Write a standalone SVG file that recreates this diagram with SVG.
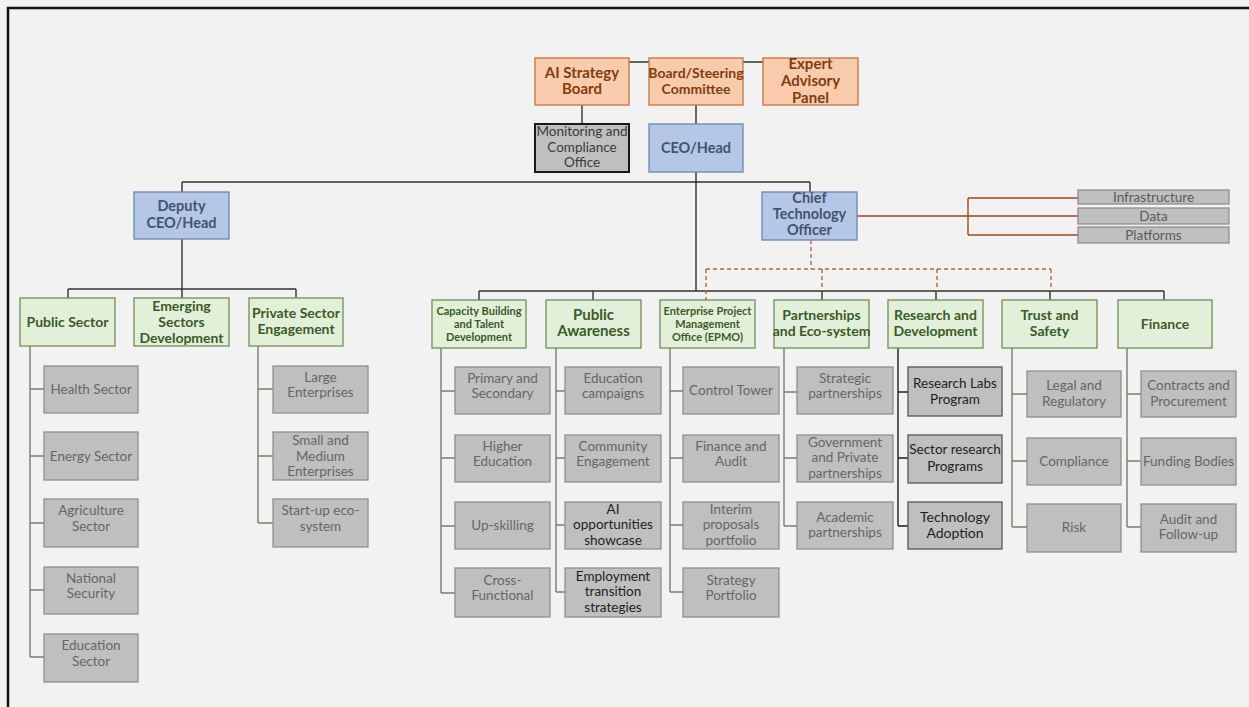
<svg xmlns="http://www.w3.org/2000/svg" width="1249" height="707" viewBox="0 0 1249 707">
<style>
text{font-family:Lato,"Liberation Sans",sans-serif;text-anchor:middle}
.o{fill:#f8cbad;stroke:#c0733f;stroke-width:1.3}
.b{fill:#b4c7e7;stroke:#6a86ad;stroke-width:1.3}
.g{fill:#e2f0d9;stroke:#6f8f55;stroke-width:1.3}
.k{fill:#bfbfbf;stroke:#8f8f8f;stroke-width:1.3}
.m{fill:#bfbfbf;stroke:#1a1a1a;stroke-width:2}
.to{fill:#843c0c;font-weight:bold;font-size:15px}
.tb{fill:#44546a;font-weight:bold;font-size:14.5px}
.tg{fill:#3a5a27;font-weight:bold;font-size:14px}
.ts{fill:#3a5a27;font-weight:bold;font-size:11px}
.tk{fill:#666666;font-size:13.5px}
.td{fill:#1e1e1e;font-size:13.5px}
.tm{fill:#3a3a3a;font-size:13.5px}
.ti{fill:#5a5a5a;font-size:13.5px}
.c{stroke:#333;stroke-width:1.4;fill:none}
.v{stroke:#76806a;stroke-width:1.4;fill:none}
.vb{stroke:#1e1e1e;stroke-width:1.4;fill:none}
.d{stroke:#b06a3a;stroke-width:1.4;stroke-dasharray:4 3;fill:none}
.r{stroke:#9c4a1a;stroke-width:1.4;fill:none}
</style>
<rect x="0" y="0" width="1249" height="707" fill="#f2f2f2"/>
<path d="M8,707V8H1249" fill="none" stroke="#111" stroke-width="2.5"/>

<g id="connectors">
<path class="c" d="M582,62H810M582,105V124M696,105V124M696,172V291M182,182H810M182,182V192M810,182V192"/>
<path class="c" d="M182,239V289M68,289H296M68,289V298M182,289V298M296,289V298"/>
<path class="c" d="M479,291H1164M479,291V300M593,291V300M822,291V300M936,291V300M1050,291V300M1164,291V300"/>
<path class="d" d="M811,240V269M706,269H1051M822,269V291M937,269V291M1051,269V291M706,269V300"/>
<path class="r" d="M857,216H1078M968,198V235M968,198H1078M968,235H1078"/>
<path class="v" d="M30,346V657M30,389H44M30,456H44M30,523H44M30,590H44M30,657H44"/>
<path class="v" d="M258,346V523M258,389H273M258,456H273M258,523H273"/>
<path class="v" d="M441,348V593M441,391H455M441,458H455M441,526H455M441,593H455"/>
<path class="v" d="M556,348V592M556,391H565M556,458H565M556,525H565M556,592H565"/>
<path class="v" d="M670,348V592M670,391H683M670,458H683M670,525H683M670,592H683"/>
<path class="v" d="M784,348V526M784,392H797M784,458H797M784,526H797"/>
<path class="vb" d="M898,348V526M898,392H908M898,458H908M898,526H908"/>
<path class="v" d="M1012,348V527M1012,394H1027M1012,461H1027M1012,527H1027"/>
<path class="v" d="M1127,348V527M1127,394H1141M1127,461H1141M1127,527H1141"/>
</g>

<g id="ai-strategy-board"><rect class="o" x="535" y="58" width="94" height="47"/><text class="to" x="582"><tspan x="582" y="78">AI Strategy</tspan><tspan x="582" y="94">Board</tspan></text></g>
<g id="board-steering"><rect class="o" x="649" y="58" width="94" height="47"/><text class="to" style="font-size:14px"><tspan x="696" y="78">Board/Steering</tspan><tspan x="696" y="94">Committee</tspan></text></g>
<g id="expert-advisory"><rect class="o" x="763" y="58" width="95" height="47"/><text class="to"><tspan x="810.5" y="69">Expert</tspan><tspan x="810.5" y="86">Advisory</tspan><tspan x="810.5" y="103">Panel</tspan></text></g>
<g id="monitoring"><rect class="m" x="535" y="124" width="94" height="48"/><text class="tm"><tspan x="582" y="136">Monitoring and</tspan><tspan x="582" y="152">Compliance</tspan><tspan x="582" y="167">Office</tspan></text></g>
<g id="ceo"><rect class="b" x="649" y="124" width="94" height="48"/><text class="tb" x="696" y="153">CEO/Head</text></g>
<g id="deputy"><rect class="b" x="134" y="192" width="95" height="47"/><text class="tb"><tspan x="181.5" y="211">Deputy</tspan><tspan x="181.5" y="228">CEO/Head</tspan></text></g>
<g id="cto"><rect class="b" x="762" y="192" width="95" height="48"/><text class="tb"><tspan x="809.5" y="203">Chief</tspan><tspan x="809.5" y="219">Technology</tspan><tspan x="809.5" y="235">Officer</tspan></text></g>
<g id="infrastructure"><rect class="k" x="1078" y="190" width="151" height="14"/><text class="ti" x="1153.5" y="202">Infrastructure</text></g>
<g id="data"><rect class="k" x="1078" y="208" width="151" height="16"/><text class="ti" x="1153.5" y="221">Data</text></g>
<g id="platforms"><rect class="k" x="1078" y="227" width="151" height="16"/><text class="ti" x="1153.5" y="240">Platforms</text></g>

<g id="public-sector"><rect class="g" x="20" y="298" width="95" height="48"/><text class="tg" x="67.5" y="327">Public Sector</text></g>
<g id="emerging"><rect class="g" x="134" y="298" width="95" height="48"/><text class="tg"><tspan x="181.5" y="311">Emerging</tspan><tspan x="181.5" y="327">Sectors</tspan><tspan x="181.5" y="343">Development</tspan></text></g>
<g id="private-sector"><rect class="g" x="249" y="298" width="94" height="48"/><text class="tg"><tspan x="296" y="318">Private Sector</tspan><tspan x="296" y="334">Engagement</tspan></text></g>
<g id="capacity"><rect class="g" x="432" y="300" width="94" height="48"/><text class="ts"><tspan x="479" y="315">Capacity Building</tspan><tspan x="479" y="328">and Talent</tspan><tspan x="479" y="341">Development</tspan></text></g>
<g id="public-awareness"><rect class="g" x="546" y="300" width="95" height="48"/><text class="tg" style="font-size:15px"><tspan x="593.5" y="320">Public</tspan><tspan x="593.5" y="336">Awareness</tspan></text></g>
<g id="epmo"><rect class="g" x="660" y="300" width="95" height="48"/><text class="ts"><tspan x="707.5" y="315">Enterprise Project</tspan><tspan x="707.5" y="328">Management</tspan><tspan x="707.5" y="341">Office (EPMO)</tspan></text></g>
<g id="partnerships"><rect class="g" x="774" y="300" width="95" height="48"/><text class="tg"><tspan x="821.5" y="320">Partnerships</tspan><tspan x="821.5" y="336">and Eco-system</tspan></text></g>
<g id="rnd"><rect class="g" x="888" y="300" width="95" height="48"/><text class="tg"><tspan x="935.5" y="320">Research and</tspan><tspan x="935.5" y="336">Development</tspan></text></g>
<g id="trust"><rect class="g" x="1002" y="300" width="95" height="48"/><text class="tg"><tspan x="1049.5" y="320">Trust and</tspan><tspan x="1049.5" y="336">Safety</tspan></text></g>
<g id="finance"><rect class="g" x="1118" y="300" width="94" height="48"/><text class="tg" x="1165" y="329">Finance</text></g>

<g id="health"><rect class="k" x="44" y="366" width="94" height="47"/><text class="tk" x="91" y="394">Health Sector</text></g>
<g id="energy"><rect class="k" x="44" y="432" width="94" height="48"/><text class="tk" x="91" y="461">Energy Sector</text></g>
<g id="agriculture"><rect class="k" x="44" y="499" width="94" height="48"/><text class="tk"><tspan x="91" y="515">Agriculture</tspan><tspan x="91" y="531">Sector</tspan></text></g>
<g id="national-security"><rect class="k" x="44" y="567" width="94" height="47"/><text class="tk"><tspan x="91" y="583">National</tspan><tspan x="91" y="598">Security</tspan></text></g>
<g id="education-sector"><rect class="k" x="44" y="634" width="94" height="48"/><text class="tk"><tspan x="91" y="650">Education</tspan><tspan x="91" y="666">Sector</tspan></text></g>

<g id="large"><rect class="k" x="273" y="366" width="95" height="47"/><text class="tk"><tspan x="320.5" y="382">Large</tspan><tspan x="320.5" y="397">Enterprises</tspan></text></g>
<g id="sme"><rect class="k" x="273" y="432" width="95" height="48"/><text class="tk"><tspan x="320.5" y="445">Small and</tspan><tspan x="320.5" y="461">Medium</tspan><tspan x="320.5" y="476">Enterprises</tspan></text></g>
<g id="startup"><rect class="k" x="273" y="499" width="95" height="48"/><text class="tk"><tspan x="320.5" y="515">Start-up eco-</tspan><tspan x="320.5" y="531">system</tspan></text></g>

<g id="primary"><rect class="k" x="455" y="367" width="95" height="47"/><text class="tk"><tspan x="502.5" y="383">Primary and</tspan><tspan x="502.5" y="398">Secondary</tspan></text></g>
<g id="higher"><rect class="k" x="455" y="435" width="95" height="47"/><text class="tk"><tspan x="502.5" y="451">Higher</tspan><tspan x="502.5" y="466">Education</tspan></text></g>
<g id="upskilling"><rect class="k" x="455" y="502" width="95" height="47"/><text class="tk" x="502.5" y="530">Up-skilling</text></g>
<g id="cross"><rect class="k" x="455" y="568" width="95" height="49"/><text class="tk"><tspan x="502.5" y="585">Cross-</tspan><tspan x="502.5" y="600">Functional</tspan></text></g>

<g id="edu-campaigns"><rect class="k" x="565" y="367" width="96" height="47"/><text class="tk"><tspan x="613" y="383">Education</tspan><tspan x="613" y="398">campaigns</tspan></text></g>
<g id="community"><rect class="k" x="565" y="435" width="96" height="47"/><text class="tk"><tspan x="613" y="451">Community</tspan><tspan x="613" y="466">Engagement</tspan></text></g>
<g id="ai-showcase"><rect class="k" x="565" y="502" width="96" height="47"/><text class="td"><tspan x="613" y="514">AI</tspan><tspan x="613" y="529">opportunities</tspan><tspan x="613" y="545">showcase</tspan></text></g>
<g id="employment"><rect class="k" x="565" y="568" width="96" height="49"/><text class="td"><tspan x="613" y="581">Employment</tspan><tspan x="613" y="596">transition</tspan><tspan x="613" y="612">strategies</tspan></text></g>

<g id="control-tower"><rect class="k" x="683" y="367" width="96" height="47"/><text class="tk" x="731" y="395">Control Tower</text></g>
<g id="finance-audit"><rect class="k" x="683" y="435" width="96" height="47"/><text class="tk"><tspan x="731" y="451">Finance and</tspan><tspan x="731" y="466">Audit</tspan></text></g>
<g id="interim"><rect class="k" x="683" y="502" width="96" height="47"/><text class="tk"><tspan x="731" y="514">Interim</tspan><tspan x="731" y="529">proposals</tspan><tspan x="731" y="545">portfolio</tspan></text></g>
<g id="strategy-portfolio"><rect class="k" x="683" y="568" width="96" height="49"/><text class="tk"><tspan x="731" y="585">Strategy</tspan><tspan x="731" y="600">Portfolio</tspan></text></g>

<g id="strategic"><rect class="k" x="797" y="367" width="96" height="47"/><text class="tk"><tspan x="845" y="383">Strategic</tspan><tspan x="845" y="398">partnerships</tspan></text></g>
<g id="gov-private"><rect class="k" x="797" y="435" width="96" height="47"/><text class="tk"><tspan x="845" y="447">Government</tspan><tspan x="845" y="462">and Private</tspan><tspan x="845" y="478">partnerships</tspan></text></g>
<g id="academic"><rect class="k" x="797" y="502" width="96" height="47"/><text class="tk"><tspan x="845" y="522">Academic</tspan><tspan x="845" y="537">partnerships</tspan></text></g>

<g id="labs"><rect class="k" x="908" y="367" width="94" height="49" style="stroke:#555"/><text class="td"><tspan x="955" y="388">Research Labs</tspan><tspan x="955" y="404">Program</tspan></text></g>
<g id="sector-research"><rect class="k" x="908" y="435" width="94" height="48" style="stroke:#555"/><text class="td"><tspan x="955" y="454">Sector research</tspan><tspan x="955" y="471">Programs</tspan></text></g>
<g id="tech-adoption"><rect class="k" x="908" y="502" width="94" height="47" style="stroke:#555"/><text class="td" style="font-size:14px"><tspan x="955" y="522">Technology</tspan><tspan x="955" y="538">Adoption</tspan></text></g>

<g id="legal"><rect class="k" x="1027" y="371" width="94" height="46"/><text class="tk"><tspan x="1074" y="390">Legal and</tspan><tspan x="1074" y="406">Regulatory</tspan></text></g>
<g id="compliance"><rect class="k" x="1027" y="438" width="94" height="47"/><text class="tk" x="1074" y="466">Compliance</text></g>
<g id="risk"><rect class="k" x="1027" y="504" width="94" height="48"/><text class="tk" x="1074" y="532">Risk</text></g>

<g id="contracts"><rect class="k" x="1141" y="371" width="95" height="46"/><text class="tk"><tspan x="1188.5" y="390">Contracts and</tspan><tspan x="1188.5" y="406">Procurement</tspan></text></g>
<g id="funding"><rect class="k" x="1141" y="438" width="95" height="47"/><text class="tk" x="1188.5" y="466">Funding Bodies</text></g>
<g id="audit-follow"><rect class="k" x="1141" y="504" width="95" height="48"/><text class="tk"><tspan x="1188.5" y="524">Audit and</tspan><tspan x="1188.5" y="539">Follow-up</tspan></text></g>
</svg>
